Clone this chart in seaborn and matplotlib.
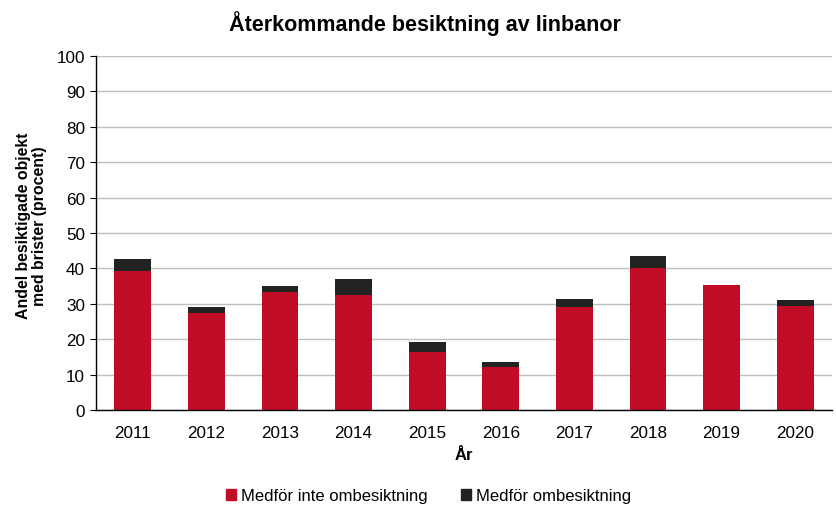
import matplotlib
matplotlib.use("Agg")
import matplotlib.pyplot as plt
import seaborn as sns
import pandas as pd
from matplotlib.patches import Patch

# Data
years = ["2011", "2012", "2013", "2014", "2015", "2016", "2017", "2018", "2019", "2020"]
inte_ombesiktning = [39.3, 27.5, 33.3, 32.6, 16.5, 12.2, 29.0, 40.2, 35.4, 29.5]
ombesiktning = [3.3, 1.7, 1.8, 4.3, 2.7, 1.4, 2.4, 3.2, 0.0, 1.6]

red = "#C00D25"
black = "#222222"

sns.set_style("white")
plt.rcParams["font.family"] = ["Liberation Sans", "DejaVu Sans"]
plt.rcParams["text.color"] = "black"
plt.rcParams["axes.labelcolor"] = "black"
plt.rcParams["xtick.color"] = "black"
plt.rcParams["ytick.color"] = "black"

df = pd.DataFrame({"År": years, "inte": inte_ombesiktning, "om": ombesiktning})
df["total"] = df["inte"] + df["om"]

fig = plt.figure(figsize=(8.37, 5.06), dpi=100)
ax = fig.add_axes([0.1147, 0.1877, 0.8793, 0.6997])

sns.barplot(data=df, x="År", y="total", color=black, width=0.5, ax=ax,
            saturation=1, linewidth=0)
sns.barplot(data=df, x="År", y="inte", color=red, width=0.5, ax=ax,
            saturation=1, linewidth=0)

ax.set_ylim(0, 100)
ax.set_xlim(-0.5, len(years) - 0.5)
ax.set_yticks(range(0, 101, 10))
ax.yaxis.grid(True, color="#BFBFBF", linewidth=1)
ax.set_axisbelow(True)

for s in ["top", "right"]:
    ax.spines[s].set_visible(False)
for s in ["left", "bottom"]:
    ax.spines[s].set_color("black")
    ax.spines[s].set_linewidth(1)

# ticks at category boundaries on x
ax.set_xticks([i - 0.5 for i in range(len(years) + 1)], minor=True)
ax.tick_params(axis="x", which="major", length=0, labelsize=12.3, pad=10.5)
ax.tick_params(axis="x", which="minor", length=4, direction="out", color="black")
ax.tick_params(axis="y", length=4, direction="out", color="black", labelsize=12.3,
               left=True, pad=4)

ax.set_xlabel("År", fontsize=12, fontweight="bold", labelpad=5)
ax.set_ylabel("Andel besiktigade objekt\nmed brister (procent)", fontsize=11.4,
              fontweight="bold", linespacing=1.05, va="center", ha="center")
ax.yaxis.set_label_coords(-0.088, 0.523)

fig.suptitle("Återkommande besiktning av linbanor", x=0.508, y=0.978,
             fontsize=15.5, fontweight="bold")

handles = [Patch(color=red, label="Medför inte ombesiktning"),
           Patch(color=black, label="Medför ombesiktning")]
fig.legend(handles=handles, loc="center", bbox_to_anchor=(0.512, 0.018), ncol=2,
           frameon=False, fontsize=12, handlelength=0.6, handleheight=0.6,
           handletextpad=0.3, columnspacing=2.0)

fig.savefig("out.png", dpi=100)
